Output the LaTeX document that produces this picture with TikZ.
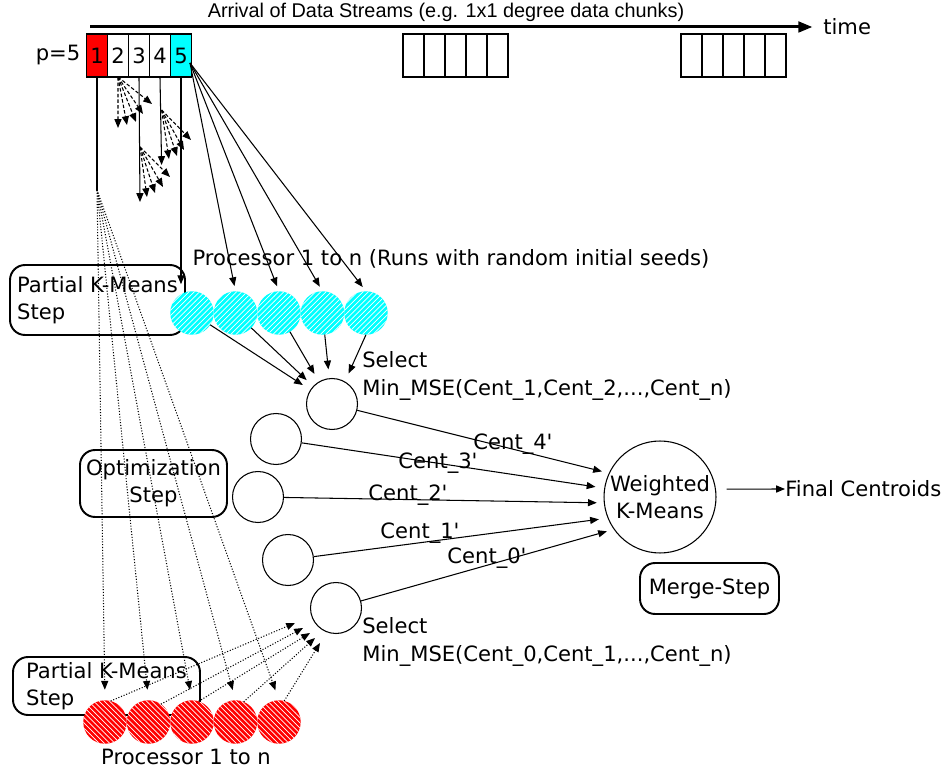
\documentclass[tikz,border=0pt]{standalone}
\usepackage{fontspec}
\setmainfont{DejaVu Sans}
\newfontfamily\narrowsans{Liberation Sans}
\usetikzlibrary{positioning,patterns,arrows.meta}

\definecolor{aqua}{RGB}{0,255,255}
\definecolor{pure red}{RGB}{255,0,0}

\tikzset{
  every node/.style={font=\fontsize{12}{15.5}\selectfont},
  chunk/.style={draw, line width=0.6pt, minimum width=0.42cm, minimum height=0.86cm, inner sep=0pt, outer sep=0pt},
  stepbox/.style={draw, line width=1.1pt, rounded corners=0.3cm, inner sep=0pt},
  proc/.style={circle, minimum size=0.87cm, inner sep=0pt, outer sep=0pt},
  cyanproc/.style={proc, fill=aqua, postaction={pattern=north east lines, pattern color=white}},
  redproc/.style={proc, fill=pure red, postaction={pattern=north west lines, pattern color=white}},
  sel/.style={circle, draw, line width=0.6pt, minimum size=1.02cm, inner sep=0pt},
  feed/.style={line width=0.6pt, -{Triangle[length=5pt,width=4pt]}},
  fan/.style={feed, dash pattern=on 2pt off 1.2pt},
  dots/.style={feed, densely dotted},
}

\newcommand{\apos}{\textquotesingle}

\begin{document}
\begin{tikzpicture}[x=0.02cm, y=-0.02cm]
  \useasboundingbox (0,0) rectangle (946,776);

  % time axis and the arriving chunks
  \node[font=\narrowsans\fontsize{11.3}{13}\selectfont] (title) at (446,12) {Arrival of Data Streams (e.g. 1x1 degree data chunks)};
  \node[anchor=west, inner sep=0pt] (time) at (823,27) {time};
  \coordinate (tstart) at (90,27);
  \draw[line width=1.7pt, -{Triangle[length=8pt,width=6pt]}, shorten >=6pt] (tstart) -- (time.west);

  \node (p) at (58,55) {p=5};
  \node[chunk, fill=pure red] (c1) at (97,55.5) {1};
  \node[chunk, right=0pt of c1] (c2) {2};
  \node[chunk, right=0pt of c2] (c3) {3};
  \node[chunk, right=0pt of c3] (c4) {4};
  \node[chunk, fill=aqua, right=0pt of c4] (c5) {5};

  \node[chunk] (d1) at (413.5,55.5) {};
  \node[chunk, right=0pt of d1] (d2) {};
  \node[chunk, right=0pt of d2] (d3) {};
  \node[chunk, right=0pt of d3] (d4) {};
  \node[chunk, right=0pt of d4] (d5) {};

  \node[chunk] (e1) at (691.5,55.5) {};
  \node[chunk, right=0pt of e1] (e2) {};
  \node[chunk, right=0pt of e2] (e3) {};
  \node[chunk, right=0pt of e3] (e4) {};
  \node[chunk, right=0pt of e4] (e5) {};

  % fans of chunks 2, 3 and 4
  \coordinate (f2a) at (118,128);
  \coordinate (f2b) at (127,125);
  \coordinate (f2c) at (136,122);
  \coordinate (f2d) at (143,114);
  \coordinate (f2e) at (152,104);
  \coordinate (split3) at (140,147);
  \coordinate (f3a) at (140,202);
  \coordinate (f3b) at (147,197);
  \coordinate (f3c) at (155,193);
  \coordinate (f3d) at (163,187);
  \coordinate (f3e) at (170,177);
  \coordinate (split4) at (161.6,110);
  \coordinate (f4a) at (161.6,165);
  \coordinate (f4b) at (169,159);
  \coordinate (f4c) at (177,156);
  \coordinate (f4d) at (184,150);
  \coordinate (f4e) at (191,140);

  \foreach \e in {a,b,c,d,e}
    \draw[fan] (c2.south) -- (f2\e);
  \draw[feed] (c3.south) -- (f3a);
  \foreach \e in {b,c,d,e}
    \draw[fan] (split3) -- (f3\e);
  \draw[feed] (c4.south) -- (f4a);
  \foreach \e in {b,c,d,e}
    \draw[fan] (split4) -- (f4\e);

  % step boxes
  \node[stepbox, align=left, minimum width=3.5cm, minimum height=1.4cm] (pkm1) at (97.5,300) {Partial K-Means\\Step};
  \node[stepbox, minimum width=2.94cm, minimum height=1.34cm, align=center] (optstep) at (153.5,483.5) {Optimization\\Step};
  \node[stepbox, align=left, minimum width=3.74cm, minimum height=1.16cm] (pkm2) at (106.5,686) {Partial K-Means\\Step};
  \node[stepbox, minimum width=2.78cm, minimum height=1.02cm] (merge) at (709.5,588.5) {Merge-Step};

  % processors
  \node[cyanproc] (cy1) at (192,313) {};
  \node[cyanproc, right=0pt of cy1] (cy2) {};
  \node[cyanproc, right=0pt of cy2] (cy3) {};
  \node[cyanproc, right=0pt of cy3] (cy4) {};
  \node[cyanproc, right=0pt of cy4] (cy5) {};
  \node (runs) at (451,259) {Processor 1 to n (Runs with random initial seeds)};

  \node[redproc] (rd1) at (105,722) {};
  \node[redproc, right=0pt of rd1] (rd2) {};
  \node[redproc, right=0pt of rd2] (rd3) {};
  \node[redproc, right=0pt of rd3] (rd4) {};
  \node[redproc, right=0pt of rd4] (rd5) {};
  \node (procs) at (186,757) {Processor 1 to n};

  % chunk 5 to the cyan processors
  \coordinate (src5) at (190,63);
  \draw[feed, shorten >=4pt] (c5.south) -- (c5.south |- cy1.north);
  \draw[feed, shorten >=3pt] (src5) -- (cy2.north);
  \draw[feed, shorten >=3pt] (src5) -- (cy3.north);
  \draw[feed, shorten >=3pt] (src5) -- (cy4.north);
  \draw[feed, shorten >=3pt] (src5) -- (cy5.north);

  % chunk 1 to the red processors
  \coordinate (split1) at (97,190);
  \draw[line width=0.6pt] (c1.south) -- (split1);
  \draw[dots, shorten >=6pt] (split1) -- (rd1.north);
  \draw[dots, shorten >=6pt] (split1) -- (rd2.north);
  \draw[dots, shorten >=6pt] (split1) -- (rd3.north);
  \draw[dots, shorten >=6pt] (split1) -- (rd4.north);
  \draw[dots, shorten >=6pt] (split1) -- (rd5.north);

  % optimisation circles
  \node[sel] (opt4) at (332,404) {};
  \node[sel] (opt3) at (276,439) {};
  \node[sel] (opt2) at (258,497) {};
  \node[sel] (opt1) at (288,560) {};
  \node[sel] (opt0) at (336,608) {};
  \node[anchor=west, align=left, inner sep=0pt] (selhi) at (362,376) {Select\\Min\_MSE(Cent\_1,Cent\_2,...,Cent\_n)};
  \node[anchor=west, align=left, inner sep=0pt] (sello) at (362,642) {Select\\Min\_MSE(Cent\_0,Cent\_1,...,Cent\_n)};

  \draw[feed, shorten >=5pt] (cy1) -- (opt4);
  \draw[feed, shorten >=5pt] (cy2) -- (opt4);
  \draw[feed, shorten >=5pt] (cy3) -- (opt4);
  \draw[feed, shorten >=5pt] (cy4) -- (opt4);
  \draw[feed, shorten >=5pt] (cy5.south) -- (opt4.60);

  \coordinate (tip1) at (295,623);
  \coordinate (tip2) at (303,628);
  \coordinate (tip3) at (310,633);
  \coordinate (tip4) at (315,638);
  \coordinate (tip5) at (320,643);
  \draw[dots] (rd1.75) -- (tip1);
  \draw[dots] (rd2.55) -- (tip2);
  \draw[dots] (rd3.72) -- (tip3);
  \draw[dots] (rd4.68) -- (tip4);
  \draw[dots] (rd5.76) -- (tip5);

  % merge step
  \node[sel, minimum size=2.24cm, align=center] (wk) at (660,497) {Weighted\\K-Means};
  \node[anchor=west, inner sep=0pt] (fc) at (785,489) {Final Centroids};
  \draw[feed, shorten <=6pt] (wk.8) -- (fc.west);

  \draw[feed, shorten >=4pt] (opt4) -- (wk.155);
  \draw[feed, shorten >=5pt] (opt3) -- (wk.171);
  \draw[feed, shorten >=4pt] (opt2) -- (wk.186);
  \draw[feed, shorten >=5pt] (opt1) -- (wk.202);
  \draw[feed, shorten >=4pt] (opt0) -- (wk.215);
  \node (cent4) at (513,444) {Cent\_4\apos};
  \node (cent3) at (438,463) {Cent\_3\apos};
  \node (cent2) at (408,495) {Cent\_2\apos};
  \node (cent1) at (420,533) {Cent\_1\apos};
  \node (cent0) at (487,558) {Cent\_0\apos};
\end{tikzpicture}
\end{document}
